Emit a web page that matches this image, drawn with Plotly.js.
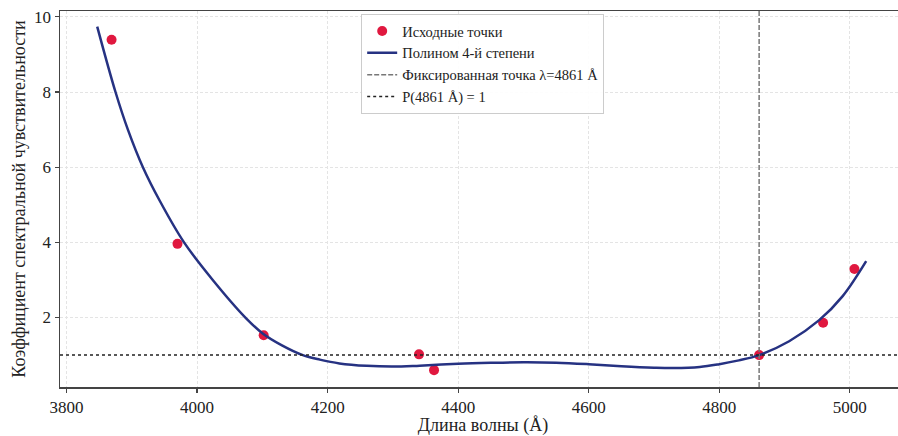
<!DOCTYPE html>
<html>
<head>
<meta charset="utf-8">
<script src="https://cdn.plot.ly/plotly-3.0.1.min.js"></script>
<style>
html,body{margin:0;padding:0;overflow:hidden;background:#fff;}
#chart{width:906px;height:436px;}
</style>
</head>
<body>
<div id="chart"></div>
<script>
// Source points
const pointX = [3869, 3970, 4102, 4340, 4363, 4861, 4959, 5007];
const pointY = [9.39, 3.96, 1.53, 1.02, 0.60, 1.00, 1.86, 3.29];

// Polynomial curve
const curveX = [3847, 3875, 3894, 3917, 3943, 3980, 4024, 4074, 4101, 4130, 4162, 4188, 4218, 4260, 4300, 4341, 4400, 4450, 4500, 4550, 4600, 4650, 4700, 4730, 4770, 4800, 4830, 4861, 4907, 4953, 4989, 5025];
const curveY = [9.74, 8.00, 7.00, 6.00, 5.10, 4.00, 3.00, 2.00, 1.57, 1.26, 1.00, 0.88, 0.78, 0.715, 0.695, 0.72, 0.77, 0.795, 0.81, 0.80, 0.76, 0.705, 0.665, 0.655, 0.685, 0.76, 0.86, 1.00, 1.37, 1.93, 2.57, 3.50];

const fixedLambda = 4861;
const fixedValue = 1;

const xTicks = [3800, 4000, 4200, 4400, 4600, 4800, 5000];
const yTicks = [2, 4, 6, 8, 10];

const serif = "Liberation Serif, Times New Roman, serif";

const traces = [
  {
    x: pointX, y: pointY, type: 'scatter', mode: 'markers',
    name: 'Исходные точки',
    marker: {color: '#e0183f', size: 10},
    legendrank: 1
  },
  {
    x: curveX, y: curveY, type: 'scatter', mode: 'lines',
    name: 'Полином 4-й степени',
    line: {color: '#263282', width: 2.5, shape: 'spline', smoothing: 1},
    legendrank: 2
  }
];

const layout = {
  width: 906, height: 436,
  margin: {l: 60, r: 0, t: 11, b: 49},
  paper_bgcolor: '#fff', plot_bgcolor: '#fff',
  font: {family: serif, color: '#222', size: 17},
  showlegend: true,
  legend: {
    x: 0.356, y: 0.992, xanchor: 'left', yanchor: 'top',
    bgcolor: 'rgba(255,255,255,0.9)', bordercolor: '#cccccc', borderwidth: 1,
    font: {family: serif, size: 14.5, color: '#222'},
    tracegroupgap: 0
  },
  xaxis: {
    range: [3790, 5086],
    tickvals: xTicks, ticktext: xTicks.map(String),
    ticks: 'outside', ticklen: 4, tickcolor: '#444', tickwidth: 1.2,
    showline: true, linecolor: '#444', linewidth: 1.5, mirror: true,
    showgrid: true, gridcolor: '#e4e4e4', griddash: '3px,2px', gridwidth: 1,
    zeroline: false,
    tickfont: {family: serif, size: 17, color: '#222'},
    title: {text: 'Длина волны (Å)', font: {family: serif, size: 18, color: '#222'}, standoff: 6}
  },
  yaxis: {
    range: [0.152, 10.155],
    tickvals: yTicks, ticktext: yTicks.map(String),
    ticks: 'outside', ticklen: 4, tickcolor: '#444', tickwidth: 1.2,
    showline: true, linecolor: '#444', linewidth: 1.5, mirror: true,
    showgrid: true, gridcolor: '#e4e4e4', griddash: '3px,2px', gridwidth: 1,
    zeroline: false,
    tickfont: {family: serif, size: 17, color: '#222'},
    title: {text: 'Коэффициент спектральной чувствительности', font: {family: serif, size: 18, color: '#222'}, standoff: 4}
  },
  shapes: [
    {
      type: 'line', xref: 'x', yref: 'paper', x0: fixedLambda, x1: fixedLambda, y0: 0, y1: 1,
      line: {color: '#777777', width: 1.5, dash: '5px,2px'},
      showlegend: true, name: 'Фиксированная точка λ=4861 Å', legendrank: 3
    },
    {
      type: 'line', xref: 'paper', yref: 'y', x0: 0, x1: 1, y0: fixedValue, y1: fixedValue,
      line: {color: '#222222', width: 1.5, dash: 'dot'},
      showlegend: true, name: 'P(4861 Å) = 1', legendrank: 4
    }
  ]
};

Plotly.newPlot('chart', traces, layout, {displayModeBar: false, staticPlot: true});
</script>
</body>
</html>
